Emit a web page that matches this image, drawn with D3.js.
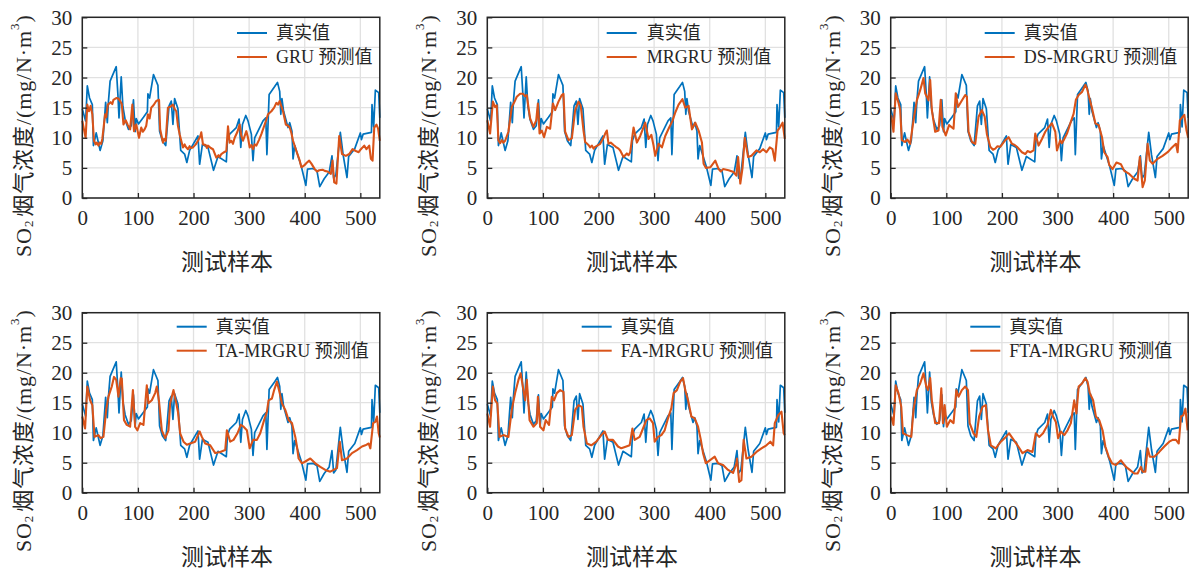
<!DOCTYPE html>
<html>
<head>
<meta charset="utf-8">
<script src="https://cdn.jsdelivr.net/npm/d3@7"></script>
<style>
  body { margin: 0; background: #fff; }
  svg { display: block; }
</style>
</head>
<body>
<svg id="chart" width="1192" height="569"></svg>
<script>
// Measured SO2 concentration on the test set: [sample index, mg/N·m3]
const actual = [[0,14.8],[6,12.8],[9,18.6],[13,16.6],[18,15.5],[20,8.7],[25,10.8],[32,7.9],[37,9.5],[42,15.9],[45,12.5],[47,16.0],[50,19.4],[61,21.8],[64,17.2],[66,13.3],[70,20.1],[73,15.2],[77,13.0],[83,11.4],[88,12.0],[92,16.3],[95,11.0],[97,13.2],[101,12.3],[110,13.4],[117,14.3],[118,17.3],[121,16.6],[128,20.5],[136,18.7],[139,11.1],[144,9.5],[150,8.7],[156,15.3],[160,16.1],[163,12.2],[166,16.5],[172,14.8],[177,7.9],[184,7.3],[188,5.9],[193,7.9],[208,10.3],[211,5.6],[216,8.9],[226,8.4],[236,4.6],[244,6.9],[259,6.0],[261,9.5],[265,10.6],[277,11.7],[282,13.1],[285,8.4],[288,12.2],[294,13.7],[298,12.8],[304,10.6],[307,6.2],[310,10.0],[325,12.8],[330,13.3],[332,7.2],[336,17.2],[346,18.5],[351,19.2],[355,17.7],[357,13.9],[359,16.5],[362,14.4],[370,11.7],[373,12.5],[377,11.1],[379,6.5],[382,8.7],[394,5.2],[402,2.1],[405,4.8],[415,4.9],[422,4.5],[427,1.9],[435,3.2],[444,4.3],[449,7.0],[452,3.3],[456,3.8],[464,10.9],[469,7.2],[476,3.4],[479,6.9],[490,8.2],[500,10.8],[502,9.7],[505,10.6],[520,10.9],[521,15.5],[524,11.8],[527,17.9],[533,17.5],[535,13.3]];

// Model predictions: [sample index, mg/N·m3]
const predGRU = [[0,12.8],[3,11.4],[6,10.0],[9,15.5],[12,14.4],[15,15.3],[18,13.9],[21,9.5],[24,8.9],[26,9.2],[29,8.7],[31,9.2],[34,9.0],[36,9.8],[41,13.9],[43,13.4],[46,15.5],[51,15.9],[54,15.6],[56,16.3],[61,16.6],[65,16.5],[68,16.1],[71,15.6],[74,12.2],[78,12.9],[82,12.1],[86,11.4],[90,15.5],[93,11.1],[97,12.2],[102,10.0],[106,11.7],[109,11.0],[112,11.4],[115,12.0],[118,13.9],[121,13.2],[124,15.0],[128,15.4],[133,16.1],[138,16.3],[140,11.4],[145,9.2],[147,9.8],[150,9.5],[154,15.0],[159,15.2],[163,15.5],[166,14.8],[169,14.4],[172,12.0],[175,10.6],[181,8.4],[184,8.9],[186,8.5],[190,8.1],[193,8.6],[195,8.3],[199,8.4],[204,8.9],[208,9.5],[212,10.2],[214,10.9],[217,8.9],[222,8.8],[224,8.3],[226,8.7],[231,8.3],[235,8.1],[241,6.7],[245,7.1],[247,6.8],[250,7.3],[255,7.6],[259,7.8],[262,11.9],[265,9.2],[268,9.5],[271,9.0],[274,10.0],[279,11.0],[283,12.2],[286,10.3],[289,9.5],[295,11.1],[298,10.0],[301,8.4],[304,8.8],[307,8.1],[310,8.9],[313,8.7],[318,9.7],[322,10.6],[328,12.2],[334,13.9],[340,14.4],[345,15.0],[349,15.8],[352,15.5],[355,16.1],[358,15.2],[361,14.4],[366,12.2],[370,12.0],[373,11.7],[376,10.8],[379,9.5],[385,7.8],[391,6.2],[394,5.1],[399,5.4],[404,5.9],[408,6.2],[412,5.7],[418,4.8],[422,4.4],[426,4.6],[432,4.7],[436,4.5],[441,4.4],[447,4.0],[450,6.2],[453,2.6],[457,2.4],[462,10.3],[467,7.3],[474,7.0],[480,7.3],[486,8.1],[492,7.8],[497,7.6],[501,8.1],[507,8.7],[511,8.1],[516,8.7],[519,6.5],[522,6.2],[525,11.7],[529,12.2],[532,11.5],[535,9.5]];
const predMRGRU = [[0,12.9],[5,10.7],[10,16.0],[14,15.1],[17,15.4],[20,9.6],[23,9.1],[26,9.6],[29,9.2],[32,9.5],[38,11.0],[44,15.1],[48,15.8],[53,16.8],[59,17.3],[64,17.3],[68,16.9],[71,17.1],[74,15.1],[77,13.2],[83,11.8],[88,12.9],[91,15.7],[94,10.7],[98,11.2],[102,10.1],[107,11.8],[113,11.5],[118,15.7],[122,14.6],[128,16.0],[134,17.1],[137,17.3],[140,11.0],[146,9.6],[152,9.9],[158,14.6],[164,16.0],[168,15.4],[173,11.2],[176,9.3],[182,8.8],[185,8.4],[188,8.7],[191,8.2],[194,8.5],[203,9.0],[209,10.0],[212,10.7],[215,11.2],[218,9.0],[222,9.2],[227,8.8],[231,8.5],[236,8.2],[239,7.9],[245,6.8],[251,7.4],[254,7.1],[257,7.6],[263,11.7],[269,9.2],[275,10.3],[280,11.5],[284,12.5],[290,9.8],[295,10.5],[299,8.7],[302,7.0],[308,9.0],[314,8.4],[320,10.3],[327,11.7],[333,12.8],[338,14.2],[344,15.5],[351,16.4],[356,15.0],[362,15.3],[368,11.4],[374,12.5],[380,11.2],[386,9.2],[389,5.7],[393,5.0],[401,5.1],[410,6.2],[416,4.8],[420,4.4],[424,4.8],[434,4.6],[443,4.3],[448,3.7],[451,6.8],[455,2.4],[459,5.0],[463,10.0],[469,6.8],[475,7.0],[484,7.9],[490,7.6],[496,8.1],[502,7.6],[508,8.4],[513,8.1],[517,6.2],[522,11.2],[526,11.7],[531,12.5],[535,9.8]];
const predDS = [[1,13.7],[5,11.0],[9,17.4],[14,15.8],[17,14.7],[20,9.6],[26,9.3],[30,9.7],[35,9.0],[41,12.9],[47,16.2],[53,17.9],[59,19.9],[62,17.4],[68,16.2],[71,19.6],[74,14.6],[80,11.0],[86,11.2],[90,16.3],[93,11.8],[99,10.4],[105,12.1],[113,11.5],[117,17.4],[121,15.1],[128,16.2],[134,17.1],[137,16.8],[140,11.0],[146,9.3],[152,9.0],[158,13.5],[164,14.6],[169,13.5],[173,10.6],[179,8.5],[184,8.0],[188,8.2],[192,8.6],[197,8.5],[206,9.6],[212,10.1],[218,9.0],[223,8.8],[227,8.5],[236,7.6],[242,7.3],[246,7.8],[251,7.6],[257,7.9],[260,10.7],[266,8.7],[272,9.8],[278,11.0],[284,11.8],[290,12.4],[296,11.0],[299,7.9],[305,9.6],[308,9.1],[311,9.6],[317,10.7],[323,12.4],[329,14.0],[333,16.3],[338,17.1],[344,17.6],[350,18.8],[353,18.2],[358,16.3],[362,14.9],[368,12.4],[374,12.1],[380,10.1],[384,7.6],[390,6.8],[393,5.5],[399,4.8],[406,5.9],[414,5.6],[420,4.5],[429,4.0],[438,3.2],[444,2.9],[448,6.8],[453,1.8],[457,2.9],[462,9.0],[466,6.2],[471,5.7],[480,6.5],[489,7.0],[498,7.6],[504,8.2],[513,9.0],[516,7.6],[520,12.9],[525,13.5],[528,13.8],[532,11.2],[535,10.0]];
const predTA = [[0,12.7],[5,10.7],[9,17.7],[14,15.4],[18,14.6],[22,9.3],[29,9.6],[33,9.1],[38,9.3],[43,13.8],[47,16.0],[53,17.7],[57,19.3],[61,18.8],[65,16.0],[69,19.1],[71,19.0],[75,12.1],[80,11.3],[86,11.0],[91,17.1],[95,11.0],[99,10.4],[104,11.6],[110,11.3],[116,17.9],[119,14.9],[125,15.4],[131,16.6],[134,17.7],[138,15.2],[143,10.4],[149,9.1],[155,10.4],[158,14.9],[164,17.1],[169,14.9],[172,13.5],[176,9.9],[182,8.5],[188,8.0],[194,8.2],[203,8.5],[211,10.2],[215,9.3],[221,8.2],[230,7.9],[239,6.6],[248,6.8],[257,7.1],[260,10.4],[266,8.5],[272,8.8],[279,9.9],[285,11.3],[290,11.0],[296,10.4],[301,7.4],[307,8.8],[314,8.8],[320,9.9],[327,12.1],[332,13.5],[335,15.4],[341,15.7],[345,17.1],[350,18.5],[355,16.6],[359,14.9],[365,13.8],[371,12.1],[377,11.6],[383,9.3],[386,7.7],[389,5.7],[395,4.9],[401,5.2],[410,5.7],[419,4.9],[428,4.3],[437,3.8],[446,3.5],[452,3.8],[458,4.1],[463,8.5],[467,5.4],[476,5.7],[485,6.6],[494,7.1],[503,7.7],[509,7.9],[515,8.2],[518,7.4],[523,11.6],[527,11.8],[530,12.7],[533,9.9],[535,9.2]];
const predFA = [[0,13.2],[5,11.0],[10,17.7],[14,15.4],[18,14.9],[22,9.3],[29,9.6],[38,9.3],[44,13.8],[50,16.6],[56,18.8],[60,19.9],[65,17.1],[68,15.4],[71,18.8],[76,12.1],[83,11.0],[89,11.6],[91,16.0],[95,11.0],[101,10.4],[105,12.1],[111,11.3],[116,16.0],[120,15.4],[125,16.6],[131,17.1],[137,16.8],[140,10.7],[146,9.3],[152,9.6],[158,13.8],[164,14.6],[170,14.3],[173,11.0],[179,8.2],[187,7.9],[196,8.5],[205,9.6],[211,10.2],[217,8.8],[226,8.8],[235,7.7],[241,7.4],[250,7.7],[256,7.9],[261,10.7],[265,8.8],[274,9.3],[280,10.7],[286,12.1],[292,12.4],[298,11.6],[301,8.5],[307,9.3],[313,9.6],[319,10.4],[325,12.4],[331,14.1],[335,16.6],[341,17.1],[347,18.5],[352,19.1],[356,17.1],[361,15.4],[367,12.7],[373,12.4],[379,11.0],[384,8.8],[388,6.6],[393,4.9],[400,5.4],[409,6.0],[415,4.9],[424,4.6],[433,3.8],[442,3.3],[448,4.9],[449,5.7],[453,1.8],[457,2.1],[461,8.8],[466,5.7],[475,6.0],[484,6.8],[493,7.4],[502,7.9],[509,8.5],[514,7.9],[517,11.6],[523,12.9],[529,13.5],[533,9.9],[535,9.6]];
const predFTA = [[1,12.7],[5,11.3],[9,17.9],[14,16.6],[19,14.3],[22,9.9],[29,9.6],[37,9.3],[41,13.8],[47,17.1],[53,18.2],[59,19.9],[64,17.7],[67,17.1],[71,19.1],[74,15.4],[80,11.6],[87,11.6],[91,17.4],[94,11.6],[97,14.6],[101,11.0],[107,12.1],[113,11.6],[118,17.1],[122,16.0],[128,17.1],[134,17.7],[139,17.1],[142,11.6],[149,9.9],[154,9.3],[159,12.7],[165,14.3],[171,14.6],[175,10.4],[180,7.9],[189,7.4],[198,8.5],[207,9.3],[213,9.9],[219,9.1],[228,7.9],[237,6.6],[246,7.1],[255,6.8],[261,9.9],[267,9.3],[274,9.9],[282,11.3],[288,13.8],[292,12.7],[297,11.8],[301,9.1],[306,10.2],[312,9.6],[318,10.4],[324,11.6],[330,15.4],[334,13.2],[338,17.7],[344,18.2],[350,19.1],[354,18.5],[358,16.6],[364,15.4],[369,12.7],[375,12.1],[381,10.4],[386,7.7],[392,6.0],[398,4.9],[405,4.6],[414,5.4],[423,4.3],[430,3.8],[438,3.2],[444,3.2],[450,4.3],[453,3.5],[458,3.5],[462,7.4],[466,6.0],[474,6.0],[483,6.8],[492,7.7],[501,8.5],[507,8.8],[513,8.8],[518,8.2],[522,12.7],[526,12.9],[530,14.0],[534,10.4]];

const modelNames = ["GRU", "MRGRU", "DS-MRGRU", "TA-MRGRU", "FA-MRGRU", "FTA-MRGRU"];
const predictions = [predGRU, predMRGRU, predDS, predTA, predFA, predFTA];
const xTicks = [0, 100, 200, 300, 400, 500];
const yTicks = [0, 5, 10, 15, 20, 25, 30];
const actualLabel = "真实值";
const predSuffix = " 预测值";
const xTitle = "测试样本";

// Panel placement (plot-area origin, height, legend offset)
const layout = [
  { left: 82.3,  top: 17.3,  h: 180.7, lx: 154.7, ly: 15.7 },
  { left: 487.3, top: 17.3,  h: 180.7, lx: 119.4, ly: 15.7 },
  { left: 890.7, top: 17.3,  h: 180.7, lx: 94.0,  ly: 15.7 },
  { left: 82.3,  top: 312.7, h: 180.0, lx: 94.4,  ly: 14.0 },
  { left: 487.3, top: 312.7, h: 180.0, lx: 94.4,  ly: 14.0 },
  { left: 890.7, top: 312.7, h: 180.0, lx: 79.6,  ly: 14.0 }
];
const plotW = 297.5;
const BLUE = "#0072BD", ORANGE = "#D95319", INK = "#262626", GRID = "#e1e1e1";
const FONT = "'Liberation Serif', 'Times New Roman', 'Noto Sans CJK SC', serif";

const svg = d3.select("#chart");

modelNames.forEach((name, i) => {
  const L = layout[i];
  const x = d3.scaleLinear().domain([0, 535]).range([0, plotW]);
  const y = d3.scaleLinear().domain([0, 30]).range([L.h, 0]);
  const g = svg.append("g").attr("transform", `translate(${L.left},${L.top})`);

  // grid
  g.append("g").selectAll("line").data(yTicks).join("line")
    .attr("x1", 0).attr("x2", plotW)
    .attr("y1", d => y(d)).attr("y2", d => y(d))
    .attr("stroke", GRID).attr("stroke-width", 1.3);
  g.append("g").selectAll("line").data(xTicks).join("line")
    .attr("x1", d => x(d)).attr("x2", d => x(d))
    .attr("y1", 0).attr("y2", L.h)
    .attr("stroke", GRID).attr("stroke-width", 1.3);

  // series
  const line = d3.line().x(d => x(d[0])).y(d => y(d[1]));
  g.append("path").datum(actual).attr("d", line)
    .attr("fill", "none").attr("stroke", BLUE).attr("stroke-width", 1.7)
    .attr("stroke-linejoin", "round");
  g.append("path").datum(predictions[i]).attr("d", line)
    .attr("fill", "none").attr("stroke", ORANGE).attr("stroke-width", 2.1)
    .attr("stroke-linejoin", "round");

  // axes with inward ticks
  const xAxis = g.append("g").attr("transform", `translate(0,${L.h})`)
    .call(d3.axisBottom(x).tickValues(xTicks).tickSizeInner(-5).tickSizeOuter(0).tickPadding(12));
  const yAxis = g.append("g")
    .call(d3.axisLeft(y).tickValues(yTicks).tickSizeInner(-5).tickSizeOuter(0).tickPadding(10));
  [xAxis, yAxis].forEach(a => {
    a.select(".domain").remove();
    a.selectAll("line").attr("stroke", INK).attr("stroke-width", 1.3);
    a.selectAll("text").attr("fill", INK).style("font-family", FONT).style("font-size", "21px");
  });

  // frame
  g.append("rect").attr("x", 0).attr("y", 0).attr("width", plotW).attr("height", L.h)
    .attr("fill", "none").attr("stroke", INK).attr("stroke-width", 1.5);

  // axis titles
  g.append("text").attr("x", plotW / 2 - 4).attr("y", L.h + 72)
    .attr("text-anchor", "middle").attr("fill", INK)
    .style("font-family", FONT).style("font-size", "23px").text(xTitle);

  const yt = g.append("text")
    .attr("transform", `translate(${-59},${L.h / 2 + 28}) rotate(-90)`)
    .attr("text-anchor", "middle").attr("dominant-baseline", "central")
    .attr("fill", INK).style("font-family", FONT).style("font-size", "22px")
    .style("letter-spacing", "0.9px");
  yt.append("tspan").text("SO");
  yt.append("tspan").attr("dy", 5).style("font-size", "13px").text("2");
  yt.append("tspan").attr("dy", -5).attr("dx", 3).text("烟气浓度/(mg/N·m");
  yt.append("tspan").attr("dy", -9).style("font-size", "13px").text("3");
  yt.append("tspan").attr("dy", 9).text(")");

  // legend
  const lg = g.append("g").attr("transform", `translate(${L.lx},${L.ly})`);
  const entries = [[actualLabel, BLUE], [name + predSuffix, ORANGE]];
  entries.forEach(([label, color], k) => {
    lg.append("line").attr("x1", 0).attr("x2", 30)
      .attr("y1", k * 24).attr("y2", k * 24)
      .attr("stroke", color).attr("stroke-width", 2);
    lg.append("text").attr("x", 39 + (i === 1 ? 1 : 0)).attr("y", k * 24)
      .attr("dominant-baseline", "central").attr("fill", INK)
      .style("font-family", FONT).style("font-size", "18px").text(label);
  });
});
</script>
</body>
</html>
